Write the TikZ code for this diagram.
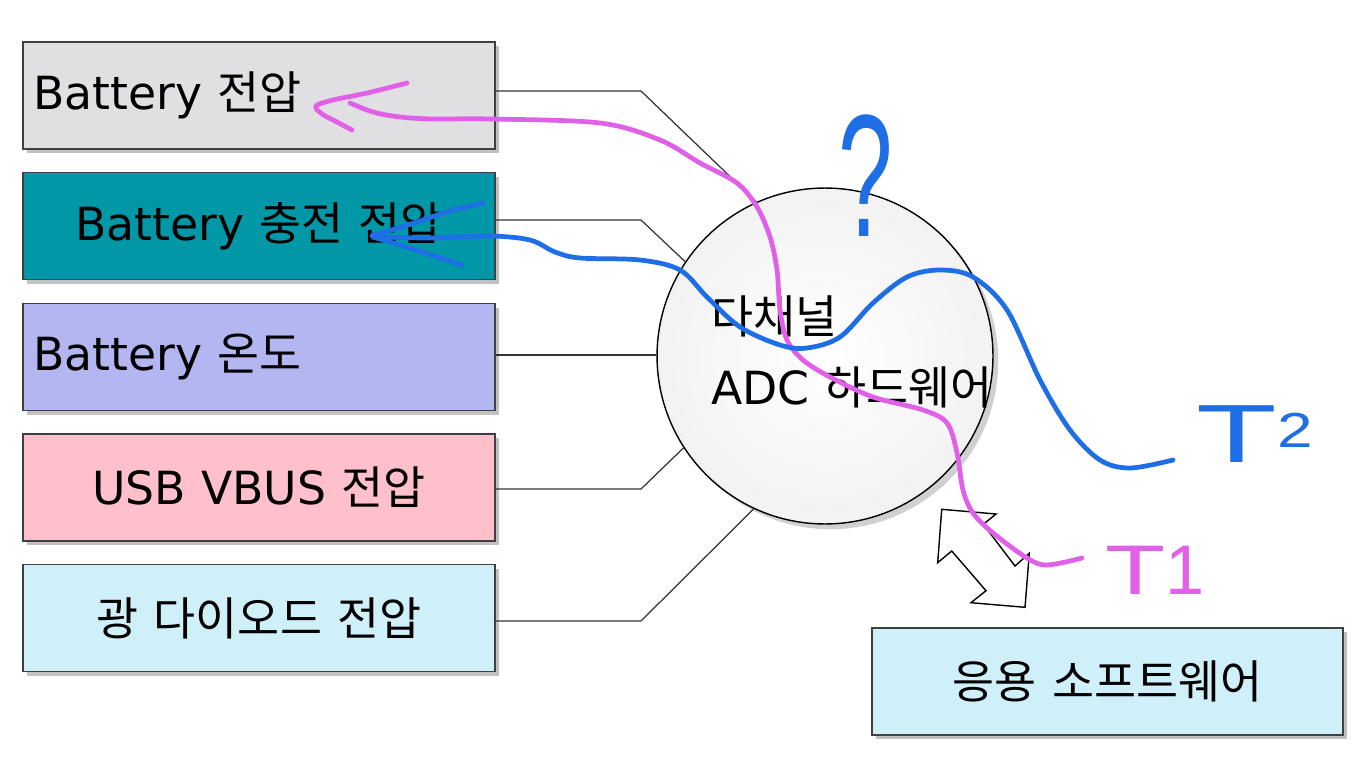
\documentclass[tikz,border=0pt]{standalone}
\usepackage{fontspec}
\setmainfont{DejaVu Sans}
\newfontfamily\kr{Noto Sans CJK KR}
\newfontfamily\hand{Liberation Sans}
\usetikzlibrary{shadows}
\definecolor{boxgray}{HTML}{E0E0E2}
\definecolor{boxteal}{HTML}{0097A7}
\definecolor{boxlav}{HTML}{B4B6F2}
\definecolor{boxpink}{HTML}{FFC0CB}
\definecolor{boxcyan}{HTML}{CFF0F8}
\definecolor{penmag}{HTML}{E060E8}
\definecolor{penblue}{HTML}{1E6EE6}
\begin{document}
\begin{tikzpicture}[x=0.02cm,y=-0.02cm,
  box/.style={draw=black!75, line width=0.8pt, minimum width=9.44cm, minimum height=2.14cm,
    inner sep=0pt, text width=9.04cm, font=\fontsize{26}{30}\selectfont,
    drop shadow={shadow xshift=2.5pt, shadow yshift=-2.5pt, opacity=0.4, fill=black!60}},
  wire/.style={draw=black!80, line width=0.7pt},
  pen/.style={line width=2.7pt, line cap=round, line join=round},
]
\useasboundingbox[fill=white] (0,0) rectangle (1354,757);

% boxes
\node[box, fill=boxgray, align=left] (b1) at (259,95.5) {Battery {\kr 전압}};
\node[box, fill=boxteal, align=center] (b2) at (259,226) {Battery {\kr 충전 전압}};
\node[box, fill=boxlav, align=left] (b3) at (259,357) {Battery {\kr 온도}};
\node[box, fill=boxpink, align=center] (b4) at (259,487.5) {USB VBUS {\kr 전압}};
\node[box, fill=boxcyan, align=center] (b5) at (259,618) {{\kr 광 다이오드 전압}};
\node[box, fill=boxcyan, minimum width=9.42cm, align=center] (app) at (1107.5,681.5) {{\kr 응용 소프트웨어}};

% ADC circle
\node[circle, draw=black, line width=0.8pt, minimum size=6.72cm, inner sep=0pt,
  inner color=white, outer color=black!5,
  drop shadow={shadow xshift=3pt, shadow yshift=-3pt, opacity=0.3, fill=black!60}] (adc) at (825,356) {};
\node[anchor=west, align=left, inner sep=0pt, font=\fontsize{26}{40}\selectfont] (adctxt) at (711,352)
  {{\kr 다채널}\\ADC {\kr 하드웨어}};

% connectors
\coordinate (k1) at (641,91);
\coordinate (k2) at (641,220);
\coordinate (k3) at (641,355);
\coordinate (k4) at (641,489);
\coordinate (k5) at (641,621);
\draw[wire] (b1.east |- k1) -- (k1) -- (adc.114);
\draw[wire] (b2.east |- k2) -- (k2) -- (adc.146);
\draw[wire] (b3.east |- k3) -- (adc.west |- k3);
\draw[wire] (b4.east |- k4) -- (k4) -- (adc.213);
\draw[wire] (b5.east |- k5) -- (k5) -- (adc.245);

% hollow double arrow
\draw[fill=white, draw=black, line width=0.8pt, line join=miter]
  (941.7,509.3) -- (996,514) -- (983.3,524.3) -- (1015,566) -- (1029.3,553.3)
  -- (1025,607.3) -- (971,602.7) -- (986,590.7) -- (951.7,551) -- (937.7,562.7) -- cycle;

% magenta pen annotation
\draw[pen, penmag] plot[smooth, tension=0.55] coordinates {(407,83) (367,93) (333,100) (316,106) (322,114) (337,122) (352,130)};
\draw[pen, penmag] plot[smooth, tension=0.55] coordinates {(350,103) (373,112) (400,117) (433,119) (490,119)
  (600,123) (660,140) (700,163) (737,183) (757,207) (770,237) (777,270) (780,310) (787,340)
  (803,360) (830,377) (873,397) (923,410) (947,423) (957,453) (963,490) (973,513) (993,533)
  (1027,558) (1047,565) (1082,558)};

% blue pen annotation
\draw[pen, penblue] plot[smooth, tension=0.55] coordinates {(483,203) (450,211) (417,222) (385,232) (372,236) (390,242) (425,253) (462,265)};
\draw[pen, penblue] plot[smooth, tension=0.55] coordinates {(383,237) (433,238) (490,236) (530,240)
  (555,252) (580,258) (640,260) (680,270) (707,297) (740,327) (780,345) (807,348) (840,337)
  (873,303) (907,277) (940,270) (973,277) (1007,310) (1040,380) (1070,430) (1100,460)
  (1130,468) (1173,460)};

% handwritten labels
\node[text=penblue, inner sep=0pt, anchor=base, font=\hand\fontsize{62}{62}\selectfont] (qm) at (866,236) {\scalebox{0.9}[1.6]{?}};
\node[text=penmag, inner sep=0pt, anchor=base west, font=\hand\fontsize{40}{40}\selectfont] (t1) at (1105,594) {\scalebox{1.4}[1]{T}1};
\node[text=penblue, inner sep=0pt, anchor=base west, font=\hand\fontsize{47}{47}\selectfont] (t2) at (1196,462)
  {\scalebox{1.6}[1]{T}\raisebox{8pt}{\fontsize{28}{28}\selectfont\scalebox{1.3}[1]{2}}};
\end{tikzpicture}
\end{document}
